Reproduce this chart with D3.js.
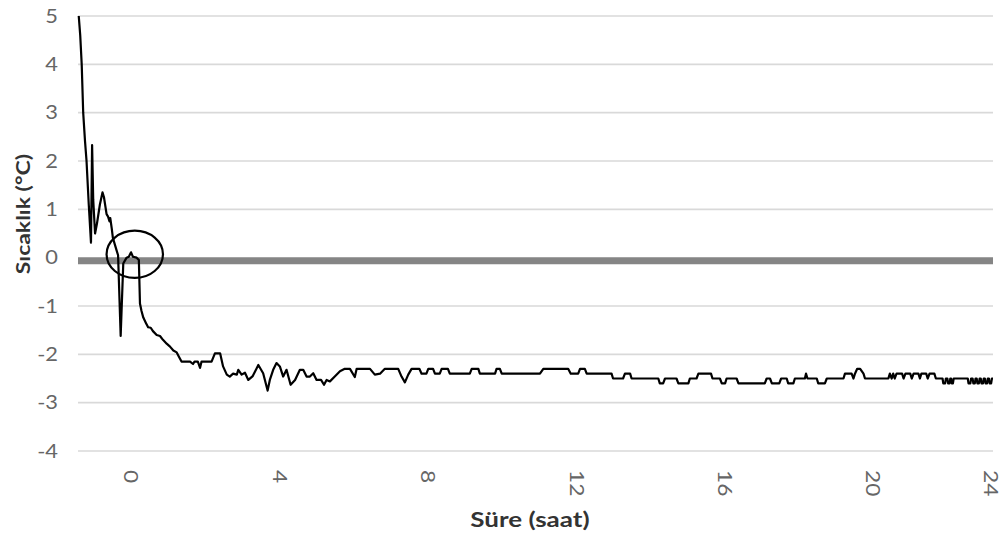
<!DOCTYPE html>
<style>
body {
  margin: 0;
  background-color: #ffffff;
}
.tick-label {
  font: 19px Lato, sans-serif;
  fill: #666666;
}
.axis-title {
  font: bold 20px Lato, sans-serif;
  fill: #333333;
}
</style>
<svg width="1003" height="534"></svg>
<script src="https://d3js.org/d3.v7.min.js"></script>
<script>
// temperature readings: [hours, degC]
var readings = [
  [-1.46,5.0],[-1.42,4.6],[-1.38,4.0],[-1.34,3.0],[-1.29,2.4],[-1.25,2.0],[-1.19,1.1],[-1.13,0.31],
  [-1.10,2.33],[-1.07,1.2],[-1.02,0.5],[-0.97,0.7],[-0.89,1.1],[-0.82,1.35],[-0.78,1.25],[-0.71,0.9],
  [-0.67,0.85],[-0.63,0.75],[-0.61,0.82],[-0.57,0.6],[-0.54,0.41],[-0.44,0.15],[-0.40,0.05],[-0.33,-1.62],
  [-0.26,-0.12],[-0.17,0.0],[-0.11,0.02],[-0.05,0.11],[0.0,0.02],[0.10,0.0],[0.16,-0.05],[0.19,-0.95],
  [0.23,-1.1],[0.28,-1.24],[0.35,-1.35],[0.41,-1.44],[0.48,-1.45],[0.54,-1.52],[0.64,-1.6],[0.73,-1.62],
  [0.81,-1.7],[0.91,-1.78],[1.0,-1.84],[1.09,-1.92],[1.18,-1.96],[1.24,-2.05],[1.31,-2.15],[1.54,-2.15],
  [1.62,-2.2],[1.66,-2.15],[1.75,-2.15],[1.81,-2.28],[1.85,-2.15],[2.12,-2.15],[2.21,-1.98],[2.35,-1.98],
  [2.43,-2.25],[2.53,-2.42],[2.61,-2.46],[2.70,-2.4],[2.80,-2.42],[2.84,-2.32],[2.93,-2.42],[3.02,-2.38],
  [3.11,-2.53],[3.23,-2.45],[3.38,-2.22],[3.51,-2.39],[3.63,-2.75],[3.69,-2.53],[3.78,-2.32],[3.87,-2.18],
  [3.96,-2.25],[4.05,-2.46],[4.14,-2.32],[4.25,-2.63],[4.37,-2.53],[4.50,-2.32],[4.59,-2.32],[4.68,-2.46],
  [4.77,-2.46],[4.86,-2.39],[4.95,-2.53],[5.07,-2.53],[5.15,-2.63],[5.22,-2.53],[5.31,-2.56],[5.44,-2.46],
  [5.58,-2.35],[5.71,-2.3],[5.85,-2.3],[5.98,-2.47],[6.03,-2.3],[6.39,-2.3],[6.52,-2.42],[6.66,-2.4],
  [6.79,-2.3],[7.15,-2.3],[7.24,-2.46],[7.33,-2.58],[7.42,-2.42],[7.51,-2.3],[7.72,-2.3],[7.78,-2.4],
  [7.91,-2.4],[7.96,-2.3],[8.09,-2.3],[8.14,-2.4],[8.27,-2.4],[8.32,-2.3],[8.49,-2.3],[8.54,-2.4],
  [9.08,-2.4],[9.13,-2.3],[9.31,-2.3],[9.35,-2.4],[9.76,-2.4],[9.80,-2.3],[9.89,-2.3],[9.94,-2.4],
  [10.97,-2.4],[11.06,-2.3],[11.73,-2.3],[11.80,-2.4],[12.0,-2.4],[12.05,-2.3],[12.18,-2.3],[12.23,-2.4],
  [12.90,-2.4],[12.94,-2.5],[13.21,-2.5],[13.26,-2.4],[13.40,-2.4],[13.44,-2.5],[14.16,-2.5],[14.20,-2.6],
  [14.29,-2.6],[14.34,-2.5],[14.65,-2.5],[14.70,-2.6],[14.97,-2.6],[15.01,-2.5],[15.19,-2.5],[15.24,-2.4],
  [15.58,-2.4],[15.62,-2.5],[15.82,-2.5],[15.87,-2.6],[15.96,-2.6],[16.0,-2.5],[16.27,-2.5],[16.32,-2.6],
  [17.03,-2.6],[17.08,-2.5],[17.17,-2.5],[17.22,-2.6],[17.42,-2.6],[17.47,-2.5],[17.62,-2.5],[17.66,-2.6],
  [17.80,-2.6],[17.84,-2.5],[18.11,-2.5],[18.14,-2.4],[18.18,-2.5],[18.43,-2.5],[18.47,-2.6],[18.65,-2.6],
  [18.70,-2.5],[19.15,-2.5],[19.19,-2.4],[19.37,-2.4],[19.42,-2.5],[19.46,-2.4],[19.52,-2.3],[19.60,-2.3],
  [19.69,-2.4],[19.73,-2.5],[20.36,-2.5],[20.40,-2.4],[20.45,-2.5],[20.49,-2.4],[20.53,-2.5],[20.58,-2.4],
  [20.73,-2.4],[20.77,-2.5],[20.82,-2.4],[20.95,-2.4],[20.99,-2.5],[21.04,-2.4],[21.17,-2.4],[21.21,-2.5],
  [21.25,-2.4],[21.38,-2.4],[21.42,-2.5],[21.47,-2.4],[21.60,-2.4],[21.64,-2.5],[21.82,-2.5],[21.84,-2.6],
  [21.89,-2.6],[21.91,-2.5],[21.95,-2.5],[21.97,-2.6],[22.01,-2.6],[22.03,-2.5],[22.05,-2.5],[22.07,-2.6],
  [22.10,-2.6],[22.12,-2.5],[22.50,-2.5],[22.52,-2.6],[22.57,-2.6],[22.59,-2.5],[22.63,-2.5],[22.65,-2.6],
  [22.69,-2.6],[22.71,-2.5],[22.74,-2.5],[22.76,-2.6],[22.80,-2.6],[22.82,-2.5],[22.85,-2.5],[22.87,-2.6],
  [22.91,-2.6],[22.93,-2.5],[22.96,-2.5],[22.98,-2.6],[23.02,-2.6],[23.04,-2.5],[23.07,-2.5],[23.09,-2.6],
  [23.13,-2.6],[23.15,-2.5],[23.18,-2.5]
];

var yTicks = [-4, -3, -2, -1, 0, 1, 2, 3, 4, 5];
var xTickHours = [0, 4, 8, 12, 16, 20, 23.18];
var xTickLabels = ["0", "4", "8", "12", "16", "20", "24"];

// marked region around the zero crossing: centre [h, degC], half-size [h, degC]
var markCentre = [0.05, 0.07];
var markRadius = [0.76, 0.49];

var svg = d3.select("svg"),
    margin = {top: 16, right: 10, bottom: 83, left: 78},
    width = +svg.attr("width") - margin.left - margin.right,
    height = +svg.attr("height") - margin.top - margin.bottom,
    g = svg.append("g").attr("transform", "translate(" + margin.left + "," + margin.top + ")");

var x = d3.scaleLinear()
    .domain([-1.48, 23.18])
    .range([0, width]);

var y = d3.scaleLinear()
    .domain([-4, 5])
    .range([height, 0]);

// gridlines
g.append("g")
  .selectAll("line")
  .data(yTicks.filter(function(d) { return d !== 0; }))
  .enter().append("line")
    .attr("x1", 0)
    .attr("x2", width)
    .attr("y1", function(d) { return y(d); })
    .attr("y2", function(d) { return y(d); })
    .attr("stroke", "#d9d9d9")
    .attr("stroke-width", 1.6);

// thick zero line
g.append("line")
    .attr("x1", 0)
    .attr("x2", width)
    .attr("y1", y(0) + 3)
    .attr("y2", y(0) + 3)
    .attr("stroke", "#858585")
    .attr("stroke-width", 7);

// y tick labels (Calibri-like, slightly widened)
g.append("g")
  .selectAll("text")
  .data(yTicks)
  .enter().append("text")
    .attr("class", "tick-label")
    .attr("transform", function(d) { return "translate(-20," + y(d) + ") scale(1.15,1)"; })
    .attr("dy", "0.35em")
    .attr("text-anchor", "end")
    .text(function(d) { return d; });

// x tick labels (rotated)
g.append("g")
  .selectAll("text")
  .data(xTickHours)
  .enter().append("text")
    .attr("class", "tick-label")
    .attr("transform", function(d) { return "translate(" + x(d) + "," + (height + 19) + ") rotate(90) scale(1.2,1)"; })
    .attr("dy", "0.45em")
    .attr("text-anchor", "start")
    .text(function(d, i) { return xTickLabels[i]; });

// temperature line
var line = d3.line()
    .x(function(d) { return x(d[0]); })
    .y(function(d) { return y(d[1]); });

g.append("path")
    .datum(readings)
    .attr("fill", "none")
    .attr("stroke", "#000")
    .attr("stroke-width", 2.2)
    .attr("stroke-linejoin", "round")
    .attr("d", line);

// circle marking the zero crossing
g.append("ellipse")
    .attr("cx", x(markCentre[0]))
    .attr("cy", y(markCentre[1]))
    .attr("rx", x(markRadius[0]) - x(0))
    .attr("ry", y(0) - y(markRadius[1]))
    .attr("fill", "none")
    .attr("stroke", "#000")
    .attr("stroke-width", 2.2);

// axis titles
svg.append("text")
    .attr("class", "axis-title")
    .attr("transform", "translate(" + (margin.left + x(10.7)) + ",527) scale(1.3,1)")
    .attr("text-anchor", "middle")
    .text("Süre (saat)");

svg.append("text")
    .attr("class", "axis-title")
    .attr("transform", "translate(30," + (margin.top + y(0.9)) + ") rotate(-90) scale(1.15,0.95)")
    .attr("text-anchor", "middle")
    .text("Sıcaklık (°C)");
</script>
